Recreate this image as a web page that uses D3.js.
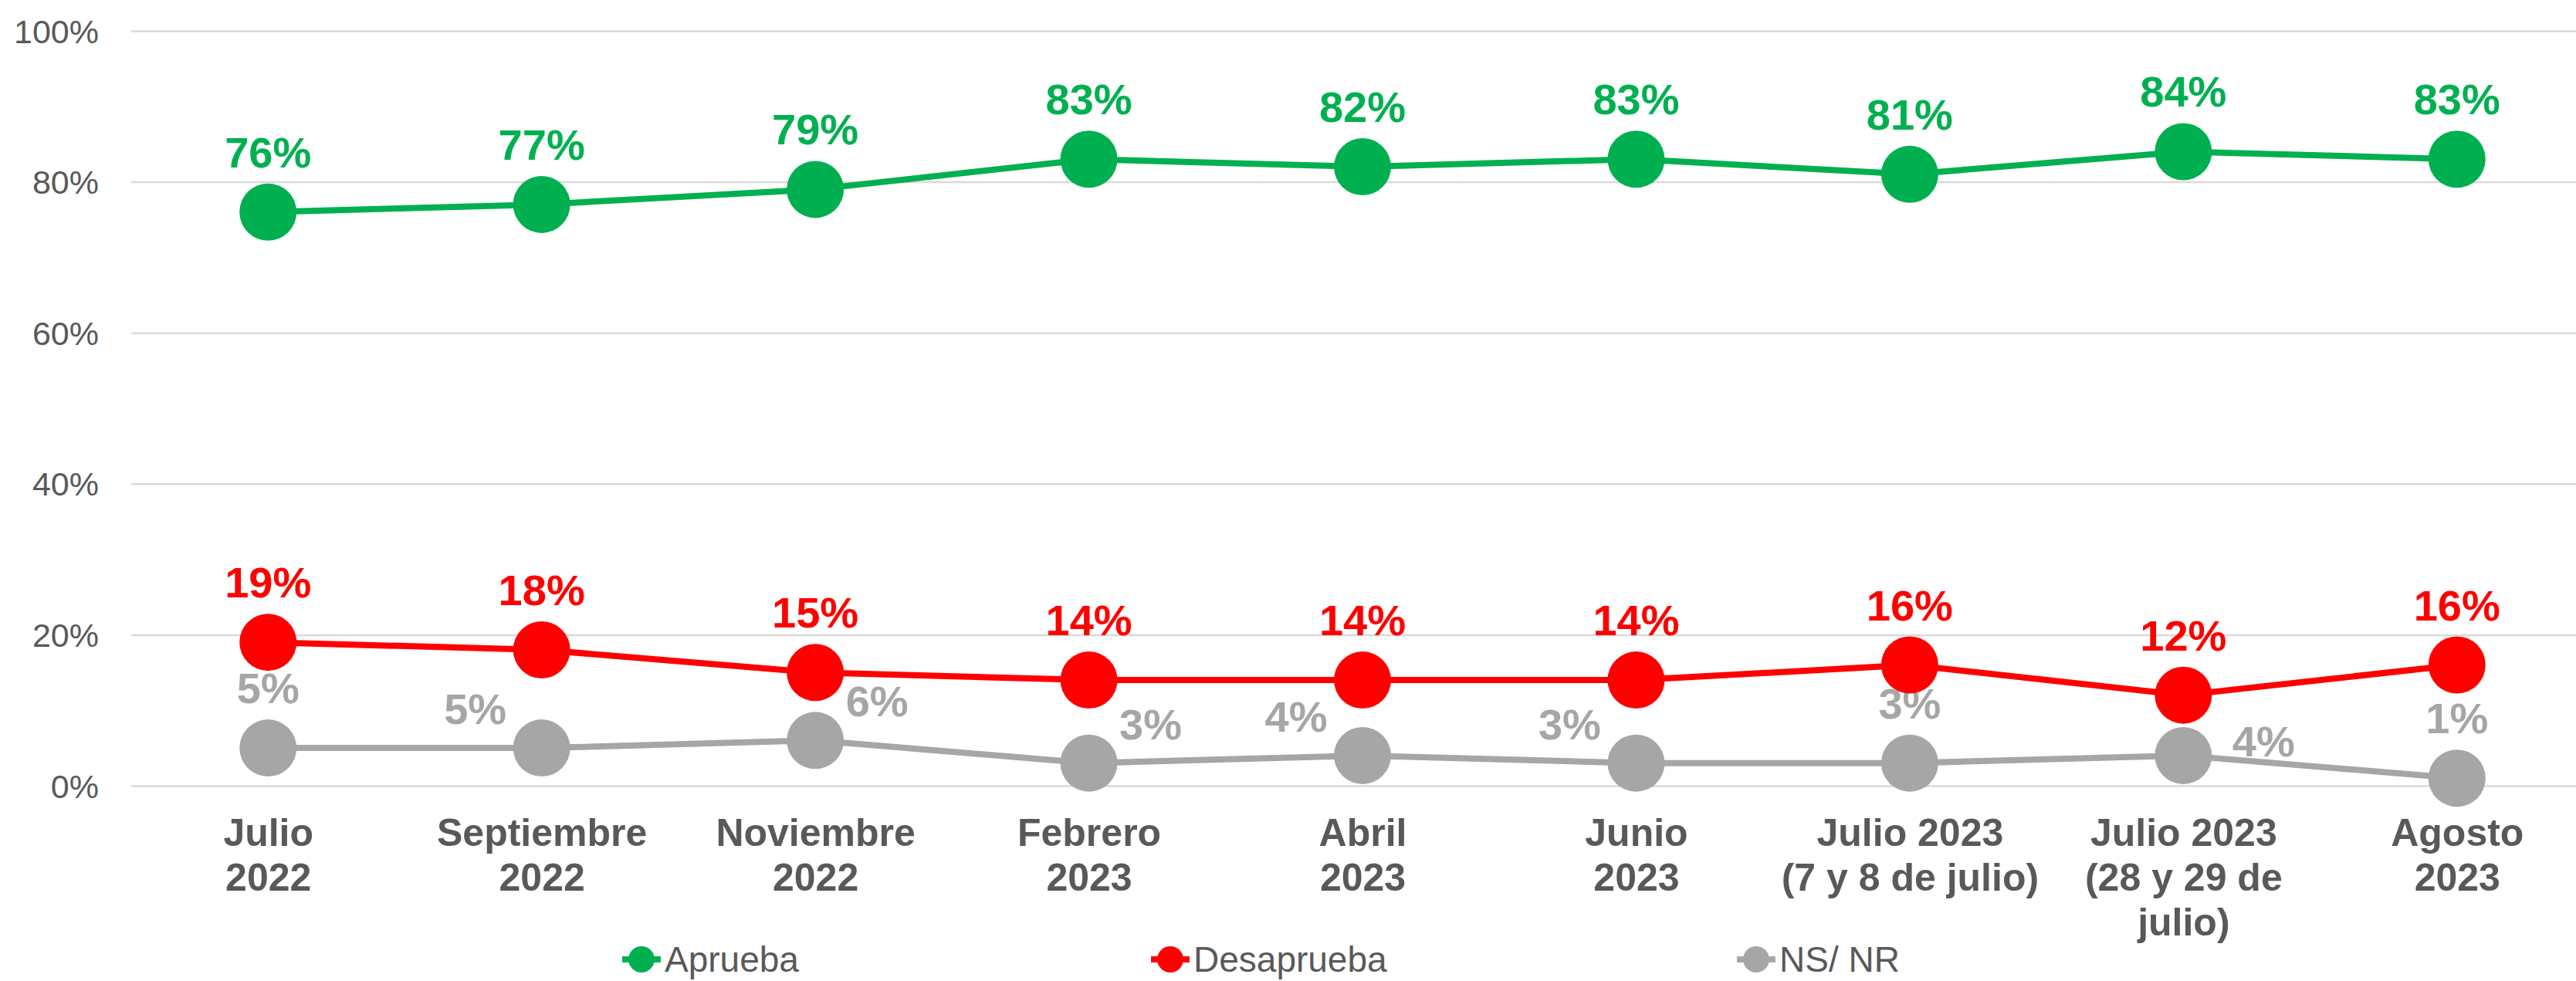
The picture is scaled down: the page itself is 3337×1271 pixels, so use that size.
<!DOCTYPE html>
<html>
<head>
<meta charset="utf-8">
<script src="https://cdn.jsdelivr.net/npm/d3@7"></script>
<style>
  html, body { margin: 0; padding: 0; background: #ffffff; }
  svg { display: block; }
</style>
</head>
<body>
<svg id="chart" width="3337" height="1271"></svg>
<script>
// ---- Data ----
const categories = [
  ["Julio", "2022"],
  ["Septiembre", "2022"],
  ["Noviembre", "2022"],
  ["Febrero", "2023"],
  ["Abril", "2023"],
  ["Junio", "2023"],
  ["Julio 2023", "(7 y 8 de julio)"],
  ["Julio 2023", "(28 y 29 de", "julio)"],
  ["Agosto", "2023"]
];
const seriesNames = ["Aprueba", "Desaprueba", "NS/ NR"];
const aprueba    = [0.76, 0.77, 0.79, 0.83, 0.82, 0.83, 0.81, 0.84, 0.83];
const desaprueba = [0.19, 0.18, 0.15, 0.14, 0.14, 0.14, 0.16, 0.12, 0.16];
const nsnr       = [0.05, 0.05, 0.06, 0.03, 0.04, 0.03, 0.03, 0.04, 0.01];
const yTicks = [0, 0.2, 0.4, 0.6, 0.8, 1.0];
const yTickLabels = ["0%", "20%", "40%", "60%", "80%", "100%"];
// label placement for the NS/NR series (as in the original)
const nsLabelPlacement = ["above", "left", "right", "right", "left", "left", "above", "rightCenter", "above"];

// ---- Style ----
const colors = { "Aprueba": "#00B050", "Desaprueba": "#FF0000", "NS/ NR": "#A6A6A6" };
const textGray = "#595959";
const gridColor = "#D9D9D9";
const fontFamily = "'Liberation Sans', Arial, sans-serif";

const svg = d3.select("#chart");
const W = 3337;

const keys = categories.map((c, i) => "c" + i);
const x = d3.scalePoint().domain(keys).range([170, 3360]).padding(0.5);
const y = d3.scaleLinear().domain([0, 1]).range([1018, 40]);

// gridlines
const gridAxis = d3.axisLeft(y).tickValues(yTicks).tickSize(-(W - 170)).tickFormat("");
const gGrid = svg.append("g").attr("transform", "translate(170,0)").call(gridAxis);
gGrid.select(".domain").remove();
gGrid.selectAll(".tick line").attr("stroke", gridColor).attr("stroke-width", 2.5);

// y-axis labels
const yAxis = d3.axisLeft(y).tickValues(yTicks).tickSize(0).tickPadding(0)
  .tickFormat((d, i) => yTickLabels[i]);
const gY = svg.append("g").attr("transform", "translate(128,0)").call(yAxis);
gY.select(".domain").remove();
gY.selectAll(".tick text")
  .attr("fill", textGray)
  .attr("font-family", fontFamily)
  .attr("font-size", 43)
  .attr("dy", "0.35em");

// x-axis labels
const xAxis = d3.axisBottom(x).tickSize(0).tickFormat("");
const gX = svg.append("g").attr("transform", "translate(0,1018)").call(xAxis);
gX.select(".domain").remove();
gX.selectAll(".tick").each(function(d, i) {
  const t = d3.select(this).append("text")
    .attr("text-anchor", "middle")
    .attr("fill", textGray)
    .attr("font-family", fontFamily)
    .attr("font-weight", "bold")
    .attr("font-size", 50);
  categories[i].forEach((line, j) => {
    t.append("tspan").attr("x", 0).attr("y", 78 + j * 58).text(line);
  });
});

const line = d3.line().x((d, i) => x(keys[i])).y(d => y(d));

function drawSeries(name, values, placements) {
  const g = svg.append("g");
  const c = colors[name];
  g.append("path").datum(values)
    .attr("d", line)
    .attr("fill", "none")
    .attr("stroke", c)
    .attr("stroke-width", 8)
    .attr("stroke-linejoin", "round");
  g.selectAll("circle").data(values).join("circle")
    .attr("cx", (d, i) => x(keys[i]))
    .attr("cy", d => y(d))
    .attr("r", 37)
    .attr("fill", c);
  g.selectAll("text.lbl").data(values).join("text")
    .attr("class", "lbl")
    .attr("fill", c)
    .attr("font-family", fontFamily)
    .attr("font-weight", "bold")
    .attr("font-size", 56)
    .attr("text-anchor", "middle")
    .attr("x", (d, i) => {
      const p = placements ? placements[i] : "above";
      const dx = p === "left" ? -86 : p === "right" ? 80 : p === "rightCenter" ? 104 : 0;
      return x(keys[i]) + dx;
    })
    .attr("y", (d, i) => {
      const p = placements ? placements[i] : "above";
      const dy = p === "above" ? -58 : p === "rightCenter" ? 1 : -31;
      return y(d) + dy;
    })
    .text(d => Math.round(d * 100) + "%");
}

drawSeries("NS/ NR", nsnr, nsLabelPlacement);
drawSeries("Desaprueba", desaprueba, null);
drawSeries("Aprueba", aprueba, null);

// legend
const legendX = [831, 1516, 2275];
const legend = svg.append("g");
seriesNames.forEach((name, i) => {
  const g = legend.append("g").attr("transform", `translate(${legendX[i]},1243)`);
  g.append("line").attr("x1", -25).attr("x2", 25).attr("y1", 0).attr("y2", 0)
    .attr("stroke", colors[name]).attr("stroke-width", 8);
  g.append("circle").attr("r", 17).attr("fill", colors[name]);
  g.append("text")
    .attr("x", 30).attr("y", 0)
    .attr("dy", "0.35em")
    .attr("fill", textGray)
    .attr("font-family", fontFamily)
    .attr("font-size", 46)
    .text(name);
});
</script>
</body>
</html>
